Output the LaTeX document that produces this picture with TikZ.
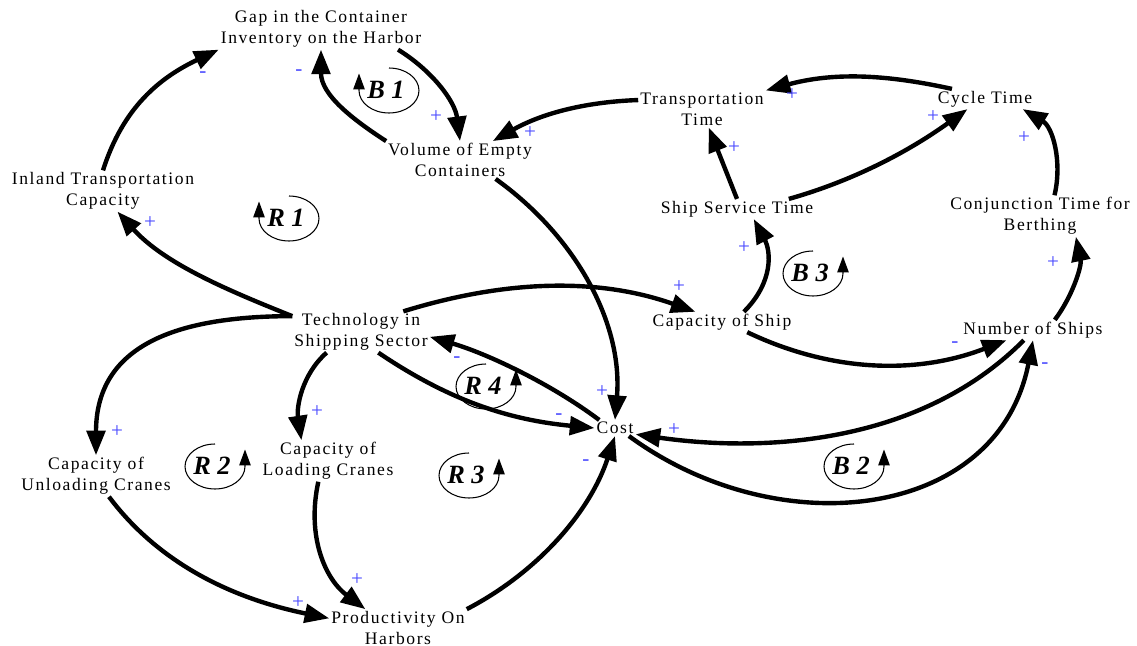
\documentclass[tikz,border=0pt]{standalone}
\usepackage{fontspec}
\setmainfont{Liberation Serif}
\newfontfamily\varfont[LetterSpace=9]{Liberation Serif}
\usetikzlibrary{arrows.meta}

\definecolor{polcolor}{rgb}{0.28,0.28,1}

\tikzset{
  var/.style={inner sep=1pt, align=center, font=\varfont\fontsize{10}{12}\selectfont},
  link/.style={line width=2.5pt, -{Triangle[length=14pt,width=10.5pt]}},
  pol/.style={inner sep=0pt, text=polcolor, font=\fontsize{12}{14}\selectfont},
  looplabel/.style={inner sep=0pt, font=\bfseries\itshape\fontsize{15}{17}\selectfont},
  loopline/.style={line width=0.6pt, -{Triangle[length=9pt,width=6.5pt]}}
}

% loop markers, drawn round a label node
\newcommand{\loopcw}[1]{%
  \draw[loopline] ([shift={(3,-22)}]#1.center) arc[start angle=90, end angle=-180, x radius=0.6cm, y radius=0.45cm] -- ++(0,-17);}
\newcommand{\loopccw}[1]{%
  \draw[loopline] ([shift={(3,-22)}]#1.center) arc[start angle=90, end angle=360, x radius=0.6cm, y radius=0.45cm] -- ++(0,-17);}

\begin{document}
\begin{tikzpicture}[x=0.02cm, y=-0.02cm]
\useasboundingbox (0,0) rectangle (1137,646);

% variables
\node[var] (gap) at (321,29) {Gap in the Container\\Inventory on the Harbor};
\node[var] (vol) at (460,160) {Volume of Empty\\Containers};
\node[var] (inland) at (103,191) {Inland Transportation\\Capacity};
\node[var] (ttime) at (702,109) {Transportation\\Time};
\node[var] (ctime) at (985,99) {Cycle Time};
\node[var] (sst) at (737,209) {Ship Service Time};
\node[var] (conj) at (1040,216) {Conjunction Time for\\Berthing};
\node[var] (tech) at (361,332) {Technology in\\Shipping Sector};
\node[var] (ship) at (722,322) {Capacity of Ship};
\node[var] (nships) at (1033,330) {Number of Ships};
\node[var] (cost) at (615,428) {Cost};
\node[var] (loadcr) at (328,461) {Capacity of\\Loading Cranes};
\node[var] (unloadcr) at (96,476) {Capacity of\\Unloading Cranes};
\node[var] (prod) at (398,628) {Productivity On\\Harbors};

% causal links
\draw[link] (inland.north) .. controls +(20,-63) and +(-59,28) .. (gap.south west);
\draw[link] (vol.north west) .. controls +(-34,-22) and +(0,45) .. (gap.south);
\draw[link] (gap.-15) .. controls +(34,21) and +(-5,-40) .. (vol.north);
\draw[link] (ttime.172) .. controls +(-55,2) and +(48,-27) .. (vol.30);
\draw[link] (ctime.163) .. controls +(-68,-15) and +(67,-18) .. (ttime.north east);
\draw[link] (sst.north) -- (ttime.-70);
\draw[link] (sst.11) .. controls +(67,-19) and +(-57,41) .. (ctime.210);
\draw[link] (conj.55) .. controls +(8,-34) and +(30,18) .. (ctime.-15);
\draw[link] (nships.25) .. controls +(18,-24) and +(6,29) .. (conj.-30);
\draw[link] (ship.25) .. controls +(30,-30) and +(17,32) .. (sst.-31);
\draw[link] (tech.26) .. controls +(100,-31) and +(-99,-35) .. (ship.159);
\draw[link] (ship.-22) .. controls +(86,41) and +(-88,34) .. (nships.201);
\draw[link] (nships.-132) .. controls +(-98,99) and +(140,20) .. (cost.-17);
\draw[link] (cost.-30) .. controls +(150,110) and +(-35,180) .. (nships.south);
\draw[link] (vol.-28) .. controls +(81,58) and +(8,-96) .. (cost.north);
\draw[link] (cost.153) .. controls +(-48,-36) and +(58,17) .. (tech.-4);
\draw[link] (tech.-50) .. controls +(71,48) and +(-85,-8) .. (cost.west);
\draw[link] (tech.167) .. controls +(-65,-26) and +(47,52) .. (inland.-55);
\draw[link] (tech.167) .. controls +(-125,0) and +(0,-105) .. (unloadcr.north);
\draw[link] (tech.-149) .. controls +(-25,22) and +(-5,-33) .. (loadcr.142);
\draw[link] (unloadcr.-58) .. controls +(54,72) and +(-88,-18) .. (prod.172);
\draw[link] (loadcr.-115) .. controls +(-12,55) and +(-40,-30) .. (prod.150);
\draw[link] (prod.north east) .. controls +(71,-37) and +(-25,76) .. (cost.south);

% link polarities
\foreach \x/\y/\s [count=\i] in {203/75/-, 299/73/-, 436/117/+, 530/133/+, 792/95/+,
    734/148/+, 933/117/+, 1024/138/+, 1053/263/+, 744/248/+, 679/287/+, 955/345/-,
    674/430/+, 1045/366/-, 602/392/+, 457/360/-, 559/417/-, 150/223/+, 117/432/+,
    317/412/+, 298/603/+, 357/580/+, 586/463/-}
  \node[pol] (pol\i) at (\x,\y) {\s};

% loops
\node[looplabel] (b1) at (386,90) {B 1};
\node[looplabel] (r1) at (286,218) {R 1};
\node[looplabel] (b3) at (810,273) {B 3};
\node[looplabel] (r2) at (212,466) {R 2};
\node[looplabel] (r3) at (466,475) {R 3};
\node[looplabel] (r4) at (483,386) {R 4};
\node[looplabel] (b2) at (851,466) {B 2};
\loopcw{b1}
\loopcw{r1}
\loopccw{b3}
\loopccw{r2}
\loopccw{r3}
\loopccw{r4}
\loopccw{b2}
\end{tikzpicture}
\end{document}
